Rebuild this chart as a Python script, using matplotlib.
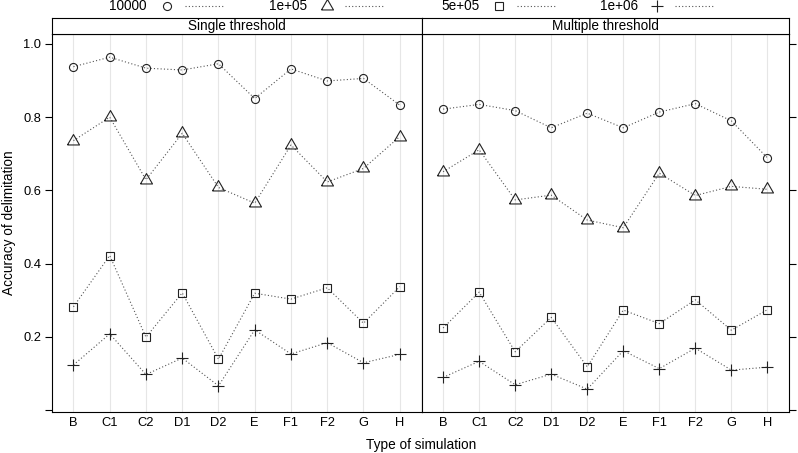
import matplotlib
matplotlib.use("Agg")
import matplotlib.pyplot as plt
from matplotlib.lines import Line2D

plt.rcParams['font.family'] = ['Liberation Sans', 'DejaVu Sans']

categories = ["B", "C1", "C2", "D1", "D2", "E", "F1", "F2", "G", "H"]
panels = ["Single threshold", "Multiple threshold"]
series_names = ["10000", "1e+05", "5e+05", "1e+06"]

single_10000 = [0.938, 0.964, 0.934, 0.929, 0.946, 0.851, 0.932, 0.899, 0.906, 0.833]
single_1e05 = [0.736, 0.800, 0.629, 0.756, 0.608, 0.565, 0.724, 0.623, 0.660, 0.747]
single_5e05 = [0.282, 0.422, 0.199, 0.320, 0.139, 0.319, 0.303, 0.334, 0.237, 0.337]
single_1e06 = [0.123, 0.208, 0.097, 0.142, 0.066, 0.219, 0.153, 0.184, 0.129, 0.152]

multi_10000 = [0.822, 0.835, 0.818, 0.771, 0.811, 0.771, 0.814, 0.837, 0.790, 0.689]
multi_1e05 = [0.651, 0.711, 0.574, 0.587, 0.519, 0.498, 0.647, 0.586, 0.611, 0.603]
multi_5e05 = [0.224, 0.322, 0.159, 0.253, 0.118, 0.273, 0.236, 0.301, 0.218, 0.274]
multi_1e06 = [0.089, 0.133, 0.069, 0.098, 0.057, 0.162, 0.113, 0.169, 0.109, 0.117]

panel_data = [
    [single_10000, single_1e05, single_5e05, single_1e06],
    [multi_10000, multi_1e05, multi_5e05, multi_1e06],
]

yticks = [0.0, 0.2, 0.4, 0.6, 0.8, 1.0]
ytick_labels = ["", "0.2", "0.4", "0.6", "0.8", "1.0"]

tri = [(-1, -0.577), (1, -0.577), (0, 1.155), (-1, -0.577)]
markers = ['o', tri, 's', '+']
msizes = [5.8, 10.0, 6.0, 8.4]

W, H = 798, 453
fig = plt.figure(figsize=(W / 100, H / 100), dpi=100)

def fx(px):
    return px / W

def fy(py):
    return 1 - py / H

panel_x = [(51.7, 421.5), (421.5, 789.0)]
top_px, bot_px = 34.3, 412.3
strip_top = 18.3

line_color = '#555555'
mark_color = '#222222'
xs = list(range(1, len(categories) + 1))
tick_fs = 9.3
lab_fs = 9.8

for i, (x0, x1) in enumerate(panel_x):
    ax = fig.add_axes([fx(x0), fy(bot_px), fx(x1) - fx(x0), fy(top_px) - fy(bot_px)])
    for x in xs:
        ax.axvline(x, color='#e6e6e6', lw=0.8, zorder=0)
    for s, vals in enumerate(panel_data[i]):
        ax.plot(xs, vals, linestyle=(0, (1, 2)), color=line_color, lw=0.8, zorder=2)
        ax.plot(xs, vals, linestyle='none', marker=markers[s], ms=msizes[s],
                mfc='none', mec=mark_color, mew=0.8, zorder=3)
    ax.set_xlim(0.4, 10.6)
    ax.set_ylim(-0.0063, 1.0265)
    ax.set_xticks(xs)
    ax.set_xticklabels(categories, fontsize=tick_fs)
    ax.tick_params(axis='x', length=0, pad=3.5)
    ax.set_yticks(yticks)
    if i == 0:
        ax.set_yticklabels(ytick_labels, fontsize=tick_fs)
        ax.tick_params(axis='y', direction='out', length=5, width=0.8, pad=2.5,
                       left=True, right=False)
    else:
        ax.tick_params(axis='y', direction='out', length=5, width=0.8,
                       left=False, right=True, labelleft=False, labelright=False)
    for sp in ax.spines.values():
        sp.set_linewidth(0.8)
        sp.set_color('black')
    # strip
    sax = fig.add_axes([fx(x0), fy(top_px), fx(x1) - fx(x0), fy(strip_top) - fy(top_px)])
    sax.set_xticks([])
    sax.set_yticks([])
    for sp in sax.spines.values():
        sp.set_linewidth(0.8)
    sax.text(0.5, 0.5, panels[i], ha='center', va='center', fontsize=lab_fs,
             transform=sax.transAxes)

fig.text(fx(9), fy(223), "Accuracy of delimitation", rotation=90, ha='center',
         va='center', fontsize=lab_fs)
fig.text(fx(421.5), fy(445), "Type of simulation", ha='center', va='center', fontsize=lab_fs)

# legend (top, four columns)
leg_text_right = [147, 307, 480, 638]
leg_sym_x = [167, 327, 499, 657]
leg_y = 6
for s, name in enumerate(series_names):
    fig.text(fx(leg_text_right[s]), fy(leg_y), name, ha='right', va='center', fontsize=lab_fs)
    fig.add_artist(Line2D([fx(leg_sym_x[s])], [fy(leg_y)], marker=markers[s], ms=msizes[s],
                          mfc='none', mec=mark_color, mew=0.8, linestyle='none',
                          transform=fig.transFigure))
    fig.add_artist(Line2D([fx(leg_sym_x[s] + 18), fx(leg_sym_x[s] + 56)], [fy(leg_y), fy(leg_y)],
                          linestyle=(0, (1, 2)), color=line_color, lw=0.8,
                          transform=fig.transFigure))

fig.savefig("out.png", dpi=100)
